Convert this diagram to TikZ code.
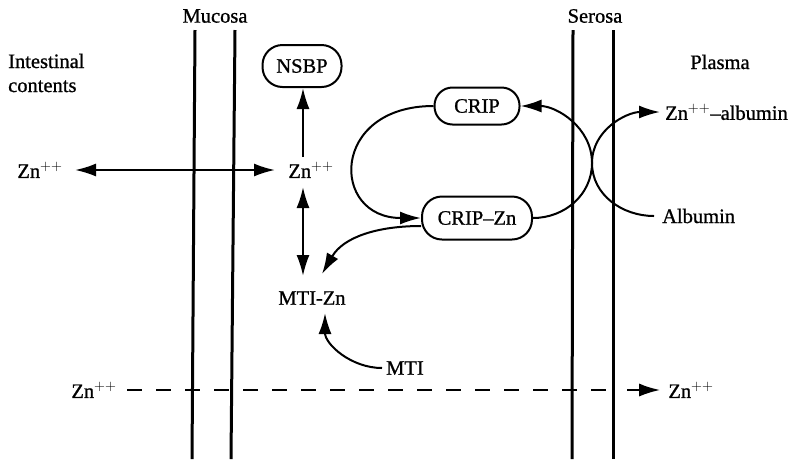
\documentclass[tikz,border=0pt]{standalone}
\usepackage{fontspec}
\setmainfont{Liberation Serif}[FakeBold=0.9]
\usetikzlibrary{arrows.meta}
\tikzset{
  lbl/.style={inner sep=2pt,font=\fontsize{20.5}{24}\selectfont},
  pill/.style={lbl,draw,line width=2pt,inner sep=0pt},
  membrane/.style={line width=3pt},
  tipx/.tip={Latex[length=21pt,width=13pt]},
  arr/.style={line width=2pt,-tipx},
  darr/.style={line width=2pt,tipx-tipx},
  dash15/.style={line width=2.6pt,dash pattern=on 15pt off 14pt}
}
\begin{document}
\begin{tikzpicture}[x=1pt,y=-1pt]
\useasboundingbox (0,0) rectangle (799,459);
% membranes
\coordinate (m1t) at (195,30); \coordinate (m1b) at (192,459);
\coordinate (m2t) at (235,30); \coordinate (m2b) at (231,459);
\coordinate (s1t) at (573,30); \coordinate (s1b) at (572,459);
\coordinate (s2t) at (613,30); \coordinate (s2b) at (613,459);
\draw[membrane] (m1t) -- (m1b);
\draw[membrane] (m2t) -- (m2b);
\draw[membrane] (s1t) -- (s1b);
\draw[membrane] (s2t) -- (s2b);
% labels
\node[lbl] (mucosa) at (215,16) {Mucosa};
\node[lbl] (serosa) at (595,16) {Serosa};
\node[lbl,anchor=west,align=left] (intest) at (6,73) {Intestinal\\contents};
\node[lbl] (plasma) at (720,62) {Plasma};
% nodes
\node[pill,rounded corners=20pt,minimum width=79pt,minimum height=42pt] (nsbp) at (302,66) {NSBP};
\node[lbl] (znmid) at (311,170) {Zn$^{++}$};
\node[lbl] (znleft) at (40,170) {Zn$^{++}$};
\node[pill,rounded corners=18pt,minimum width=85pt,minimum height=37pt] (crip) at (477,106) {CRIP};
\node[pill,rounded corners=20pt,minimum width=110pt,minimum height=43pt] (cripzn) at (477,218) {CRIP--Zn};
\node[lbl] (mtizn) at (312,298) {MTI-Zn};
\node[lbl] (mti) at (405,368) {MTI};
\node[lbl,anchor=west] (znalb) at (663,112) {Zn$^{++}$--albumin};
\node[lbl,anchor=west] (albumin) at (660,216) {Albumin};
\node[lbl] (znbotL) at (94,390) {Zn$^{++}$};
\node[lbl] (znbotR) at (691,390) {Zn$^{++}$};
% helper coordinates
\coordinate (cross) at (592,163);
\coordinate (nsbptip) at (303,88);
\coordinate (znup) at (303,157);
\coordinate (zndown) at (303,187);
\coordinate (mtitop) at (303,276);
\coordinate (mtiztip) at (322,274);
\coordinate (mtibot) at (325,313);
\coordinate (dashend) at (613,390);
\coordinate (arrstart) at (627,390);
% connectors
\draw[darr] (75,170) -- (275,170);
\draw[arr] (znup) -- (nsbptip);
\draw[darr] (zndown) -- (mtitop);
\draw[arr] (crip.west) .. controls (330,106) and (330,218) .. (cripzn.west);
\draw[arr] ([yshift=-8pt]cripzn.west) to[out=180,in=60] (mtiztip);
\draw[arr] ([xshift=-2pt]mti.west) to[out=180,in=-90] (mtibot);
\draw[arr] (cripzn.east) to[out=0,in=-90] (cross) to[out=90,in=180] ([xshift=-3pt]znalb.west);
\draw[arr] ([xshift=-6pt]albumin.west) to[out=180,in=-90] (cross) to[out=90,in=0] (crip.east);
\draw[dash15] (127,390) -- (dashend);
\draw[arr] (arrstart) -- ([xshift=-6pt]znbotR.west);
\end{tikzpicture}
\end{document}
